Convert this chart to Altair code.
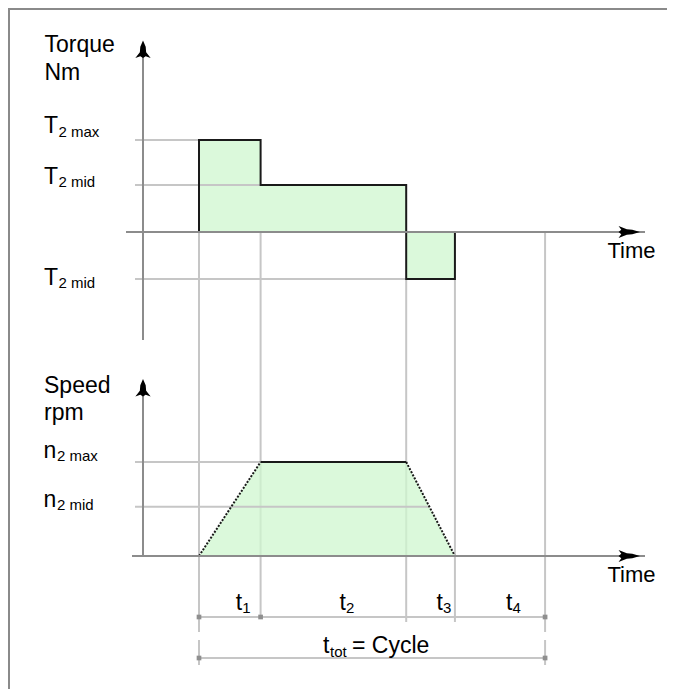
import altair as alt
import numpy as np
import pandas as pd

# ---------------- data ----------------
phase_subscripts = ["1", "2", "3", "4"]
start_delay = 1.0                          # from the axis to the start of the cycle
phase_durations = [1.1, 2.6, 0.87, 1.61]   # t1, t2, t3, t4
T2_max = 1.96
T2_mid = 1.0
torque_per_phase = [T2_max, T2_mid, -T2_mid, 0.0]
n2_max = 2.0
n2_mid = 1.05
speed_at_bounds = [0.0, n2_max, n2_max, 0.0, 0.0]
torque_label_subs = ["2 max", "2 mid", "2 mid"]
speed_label_subs = ["2 max", "2 mid"]

bounds = list(np.cumsum([start_delay] + phase_durations))  # b0..b4

# ---------------- layout / style ----------------
W, H = 659, 681
PX_T, ORIGIN_X = 56.0, 135.0
PX_Y, TQ_ZERO, SP_ZERO = 47.0, 224.0, 548.0
xscale = alt.Scale(domain=[-ORIGIN_X / PX_T, (W - ORIGIN_X) / PX_T], nice=False, zero=False)
tscale = alt.Scale(domain=[(TQ_ZERO - H) / PX_Y, TQ_ZERO / PX_Y], nice=False, zero=False)
sscale = alt.Scale(domain=[(SP_ZERO - H) / PX_Y, SP_ZERO / PX_Y], nice=False, zero=False)
GRID_X0 = -0.143

FILL = "#cff7cf"
GRID = "#c6c6c6"
AXIS = "#8c8c8c"
OUTLINE = "#1a1a1a"
FONT = "Liberation Sans"

UP = ("M0,-1 L0.3,-0.3 L0.35,0.3 L0.85,0.95 L0.3,0.75 L0,0.95 "
      "L-0.3,0.75 L-0.85,0.95 L-0.35,0.3 L-0.3,-0.3 Z")
RIGHT = ("M1,0 L0.3,0.2 L-0.2,0.24 L-0.95,0.55 L-0.7,0.2 L-0.95,0 "
         "L-0.7,-0.2 L-0.95,-0.55 L-0.2,-0.24 L0.3,-0.2 Z")


def X(f):
    return alt.X(f, type="quantitative", scale=xscale, axis=None)


def YT(f):
    return alt.Y(f, type="quantitative", scale=tscale, axis=None)


def YS(f):
    return alt.Y(f, type="quantitative", scale=sscale, axis=None)


one = pd.DataFrame({"z": [0.0]})

# ---------------- torque panel ----------------
t_area = pd.DataFrame({"t": bounds[:4],
                       "v": torque_per_phase[:3] + [torque_per_phase[2]],
                       "z": 0.0})
torque_area = alt.Chart(t_area).mark_area(
    interpolate="step-after", color=FILL, opacity=0.75
).encode(x=X("t"), y=YT("v"), y2=alt.Y2("z"))

t_grid = pd.DataFrame({"y": [T2_max, T2_mid, -T2_mid],
                       "x0": GRID_X0,
                       "x1": [bounds[0], bounds[1], bounds[2]]})
torque_grid = alt.Chart(t_grid).mark_rule(color=GRID, strokeWidth=2).encode(
    x=X("x0"), x2=alt.X2("x1"), y=YT("y"))

verts = [(bounds[0], 0.0)]
for i in range(3):
    verts.append((bounds[i], torque_per_phase[i]))
    verts.append((bounds[i + 1], torque_per_phase[i]))
verts.append((bounds[3], 0.0))
t_line = pd.DataFrame({"t": [v[0] for v in verts], "v": [v[1] for v in verts],
                       "i": list(range(len(verts)))})
torque_outline = alt.Chart(t_line).mark_line(color=OUTLINE, strokeWidth=2).encode(
    x=X("t"), y=YT("v"), order=alt.Order("i"))

guides = pd.DataFrame({"t": bounds, "top": [0.0, 0.0, -T2_mid, -T2_mid, 0.0]})
guide_layers = []
for idx, bottom in [([0, 4], 624), ([1], 610), ([2, 3], 614)]:
    guide_layers.append(
        alt.Chart(guides.iloc[idx]).mark_rule(color=GRID, strokeWidth=2).encode(
            x=X("t"), y=YT("top"), y2=alt.value(bottom)))
guide_layers.append(
    alt.Chart(guides.iloc[[0, 4]]).mark_rule(color=GRID, strokeWidth=2).encode(
        x=X("t"), y=alt.value(632), y2=alt.value(657)))

torque_haxis = alt.Chart(one).mark_rule(color=AXIS, strokeWidth=2).encode(
    x=alt.value(118), x2=alt.value(637), y=YT("z"))
torque_harrow = alt.Chart(one).mark_point(
    shape=RIGHT, filled=True, color="black", size=484, opacity=1, strokeWidth=0
).encode(x=alt.value(621), y=YT("z"))
torque_vaxis = alt.Chart(one).mark_rule(color=AXIS, strokeWidth=2).encode(
    x=X("z"), y=alt.value(42), y2=alt.value(332))
torque_varrow = alt.Chart(one).mark_point(
    shape=UP, filled=True, color="black", size=324, opacity=1, strokeWidth=0
).encode(x=X("z"), y=alt.value(41.5))

torque_group = alt.layer(torque_area, torque_grid, *guide_layers, torque_outline,
                         torque_haxis, torque_vaxis, torque_harrow, torque_varrow)

# ---------------- speed panel ----------------
s_area = pd.DataFrame({"t": bounds[:4], "v": speed_at_bounds[:4], "z": 0.0})
speed_area = alt.Chart(s_area).mark_area(color=FILL, opacity=0.75).encode(
    x=X("t"), y=YS("v"), y2=alt.Y2("z"))

mid_cross = bounds[2] + (bounds[3] - bounds[2]) * (1 - n2_mid / n2_max)
s_grid = pd.DataFrame({"y": [n2_max, n2_mid], "x0": GRID_X0,
                       "x1": [bounds[1], mid_cross]})
speed_grid = alt.Chart(s_grid).mark_rule(color=GRID, strokeWidth=2).encode(
    x=X("x0"), x2=alt.X2("x1"), y=YS("y"))

s_top = pd.DataFrame({"x0": [bounds[1]], "x1": [bounds[2]], "y": [n2_max]})
speed_top = alt.Chart(s_top).mark_rule(color=OUTLINE, strokeWidth=2).encode(
    x=X("x0"), x2=alt.X2("x1"), y=YS("y"))
s_diag = pd.DataFrame({"x0": [bounds[0], bounds[2]], "x1": [bounds[1], bounds[3]],
                       "y0": [speed_at_bounds[0], speed_at_bounds[2]],
                       "y1": [speed_at_bounds[1], speed_at_bounds[3]]})
speed_diag = alt.Chart(s_diag).mark_rule(
    color=OUTLINE, strokeWidth=2, strokeDash=[2, 1.5]
).encode(x=X("x0"), x2=alt.X2("x1"), y=YS("y0"), y2=alt.Y2("y1"))

speed_haxis = alt.Chart(one).mark_rule(color=AXIS, strokeWidth=2).encode(
    x=alt.value(124), x2=alt.value(637), y=YS("z"))
speed_harrow = alt.Chart(one).mark_point(
    shape=RIGHT, filled=True, color="black", size=484, opacity=1, strokeWidth=0
).encode(x=alt.value(621), y=YS("z"))
speed_vaxis = alt.Chart(one).mark_rule(color=AXIS, strokeWidth=2).encode(
    x=X("z"), y=alt.value(382), y2=alt.value(548))
speed_varrow = alt.Chart(one).mark_point(
    shape=UP, filled=True, color="black", size=324, opacity=1, strokeWidth=0
).encode(x=X("z"), y=alt.value(380))

speed_group = alt.layer(speed_area, speed_grid, speed_top, speed_diag,
                        speed_haxis, speed_vaxis, speed_harrow, speed_varrow)

# ---------------- dimension lines & labels ----------------
dims = pd.DataFrame({"x0": [bounds[0], bounds[0]], "x1": [bounds[4], bounds[4]],
                     "row": [0, 1]})
dim_rules = [
    alt.Chart(dims.iloc[[0]]).mark_rule(color=GRID, strokeWidth=2).encode(
        x=X("x0"), x2=alt.X2("x1"), y=alt.value(609)),
    alt.Chart(dims.iloc[[1]]).mark_rule(color=GRID, strokeWidth=2).encode(
        x=X("x0"), x2=alt.X2("x1"), y=alt.value(650)),
]
mk1 = pd.DataFrame({"t": [bounds[0], bounds[1], bounds[4]]})
mk2 = pd.DataFrame({"t": [bounds[0], bounds[4]]})
markers = [
    alt.Chart(mk1).mark_point(shape="square", filled=True, color="#8f8f8f",
                              size=22, opacity=1).encode(x=X("t"), y=alt.value(609)),
    alt.Chart(mk2).mark_point(shape="square", filled=True, color="#8f8f8f",
                              size=22, opacity=1).encode(x=X("t"), y=alt.value(650)),
]

mids = pd.DataFrame({"m": [(bounds[i] + bounds[i + 1]) / 2 for i in range(4)],
                     "sub": phase_subscripts, "t": "t"})
t_main = alt.Chart(mids).mark_text(font=FONT, fontSize=23, align="left",
                                   baseline="alphabetic", dx=6, color="black").encode(
    x=X("m"), y=alt.value(602), text="t:N")
t_sub = alt.Chart(mids).mark_text(font=FONT, fontSize=15, align="left",
                                  baseline="alphabetic", dx=12.5, color="black").encode(
    x=X("m"), y=alt.value(604.5), text="sub:N")

cyc = pd.DataFrame({"m": [(bounds[0] + bounds[4]) / 2]})
cyc_layers = [
    alt.Chart(cyc).mark_text(text="t", font=FONT, fontSize=23, align="left",
                             baseline="alphabetic", dx=-49, color="black").encode(
        x=X("m"), y=alt.value(645)),
    alt.Chart(cyc).mark_text(text="tot", font=FONT, fontSize=15, align="left",
                             baseline="alphabetic", dx=-42, color="black").encode(
        x=X("m"), y=alt.value(649)),
    alt.Chart(cyc).mark_text(text="= Cycle", font=FONT, fontSize=23, align="left",
                             baseline="alphabetic", dx=-20, color="black").encode(
        x=X("m"), y=alt.value(645)),
]


def label(txt, x, y, size=23):
    return alt.Chart(one).mark_text(text=txt, font=FONT, fontSize=size, align="left",
                                    baseline="alphabetic", color="black").encode(
        x=alt.value(x), y=alt.value(y))


text_layers = [
    label("Torque", 36.5, 44), label("Nm", 36.5, 72),
    label("Speed", 36, 385), label("rpm", 36, 412),
    label("Time", 599.5, 250, 22), label("Time", 599.5, 574, 22),
]
for (ty, sy), sub in zip([(125, 129), (176, 179), (277, 280)], torque_label_subs):
    text_layers += [label("T", 36, ty), label(sub, 50.5, sy, 15)]
for (ty, sy), sub in zip([(450, 453), (499, 502)], speed_label_subs):
    text_layers += [label("n", 35.5, ty), label(sub, 49, sy, 15)]

frame = [
    alt.Chart(one).mark_rule(color="#8a8a8a", strokeWidth=2).encode(
        x=alt.value(0), x2=alt.value(W), y=alt.value(1)),
    alt.Chart(one).mark_rule(color="#8a8a8a", strokeWidth=2).encode(
        x=alt.value(1), y=alt.value(0), y2=alt.value(H)),
]

misc_group = alt.layer(*dim_rules, *markers, t_main, t_sub, *cyc_layers,
                       *text_layers, *frame)

chart = alt.layer(torque_group, speed_group, misc_group).resolve_scale(
    y="independent"
).properties(
    width=W, height=H, padding=0, autosize="none"
).configure_view(stroke=None)

chart.save("out.html", embed_options={"renderer": "svg", "actions": False})
